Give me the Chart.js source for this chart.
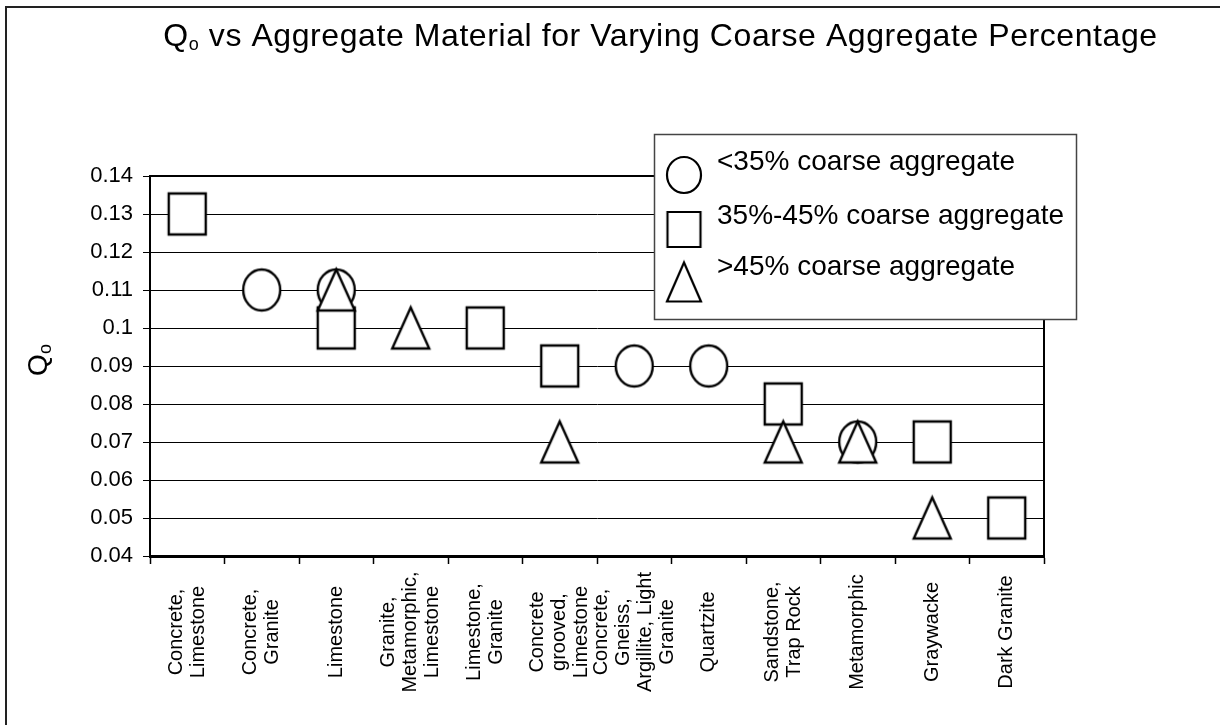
<!DOCTYPE html>
<html>
<head>
<meta charset="utf-8">
<title>Qo vs Aggregate Material</title>
<script src="https://cdn.jsdelivr.net/npm/chart.js@4.4.1/dist/chart.umd.min.js"></script>
<style>
  html, body { margin: 0; padding: 0; background: #fff; }
  #wrap { width: 1220px; height: 725px; }
</style>
</head>
<body>
<div id="wrap"><canvas id="chart" width="1220" height="725"></canvas></div>
<script>
// ---- data ----
const categories = [
    ['Concrete,', 'Limestone'],
    ['Concrete,', 'Granite'],
    ['Limestone'],
    ['Granite,', 'Metamorphic,', 'Limestone'],
    ['Limestone,', 'Granite'],
    ['Concrete', 'grooved,', 'Limestone'],
    ['Concrete,', 'Gneiss,', 'Argillite, Light', 'Granite'],
    ['Quartzite'],
    ['Sandstone,', 'Trap Rock'],
    ['Metamorphic'],
    ['Graywacke'],
    ['Dark Granite']
];
const seriesNames = ['<35% coarse aggregate', '35%-45% coarse aggregate', '>45% coarse aggregate'];
const lowCoarse  = [null, 0.11, 0.11, null, null, null, 0.09, 0.09, null, 0.07, null, null];
const midCoarse  = [0.13, null, 0.10, null, 0.10, 0.09, null, null, 0.08, null, 0.07, 0.05];
const highCoarse = [null, null, 0.11, 0.10, null, 0.07, null, null, 0.07, 0.07, 0.05, null];
const yMin = 0.04;
const yMax = 0.14;
const yStep = 0.01;

const FONT = "'Liberation Sans', Arial, Helvetica, sans-serif";

// hollow marker drawn once, used as pointStyle image
function makeMarker(shape, w, h, lw) {
    const pad = 4;
    const c = document.createElement('canvas');
    c.width = w + pad * 2;
    c.height = h + pad * 2;
    const g = c.getContext('2d');
    g.translate(pad, pad);
    g.lineWidth = lw;
    g.lineJoin = 'miter';
    g.strokeStyle = '#000';
    g.fillStyle = '#fff';
    g.beginPath();
    if (shape === 'circle') {
        g.ellipse(w / 2, h / 2, w / 2, h / 2, 0, 0, Math.PI * 2);
    } else if (shape === 'square') {
        g.rect(0, 0, w, h);
    } else {
        g.moveTo(w / 2, 0);
        g.lineTo(w, h);
        g.lineTo(0, h);
        g.closePath();
    }
    g.fill();
    g.stroke();
    return c;
}

const markers = {
    circle: makeMarker('circle', 37, 41, 2.4),
    square: makeMarker('square', 37, 41, 2.4),
    triangle: makeMarker('triangle', 37, 41, 2.4)
};
const legendMarkers = [
    makeMarker('circle', 34, 36, 2.2),
    makeMarker('square', 33, 35, 2.2),
    makeMarker('triangle', 34, 39, 2.2)
];

// draws text pieces in a row (used for the subscript o)
function drawRun(ctx, parts, x, y, spacing) {
    let cx = x;
    parts.forEach(p => {
        ctx.font = `${p.size}px ${FONT}`;
        if ('letterSpacing' in ctx) ctx.letterSpacing = (spacing || 0) + 'px';
        ctx.fillText(p.text, cx, y + (p.dy || 0));
        cx += ctx.measureText(p.text).width;
    });
    if ('letterSpacing' in ctx) ctx.letterSpacing = '0px';
    return cx - x;
}

function runWidth(ctx, parts, spacing) {
    let w = 0;
    parts.forEach(p => {
        ctx.font = `${p.size}px ${FONT}`;
        if ('letterSpacing' in ctx) ctx.letterSpacing = (spacing || 0) + 'px';
        w += ctx.measureText(p.text).width;
    });
    if ('letterSpacing' in ctx) ctx.letterSpacing = '0px';
    return w;
}

const decorPlugin = {
    id: 'decor',
    beforeDraw(chart) {
        const ctx = chart.ctx;
        ctx.save();
        ctx.fillStyle = '#fff';
        ctx.fillRect(0, 0, chart.width, chart.height);
        // outer chart frame (only top and left are inside the picture)
        ctx.strokeStyle = '#222';
        ctx.lineWidth = 2;
        ctx.beginPath();
        ctx.moveTo(6, chart.height);
        ctx.lineTo(6, 7);
        ctx.lineTo(chart.width, 7);
        ctx.stroke();
        ctx.restore();
    },
    beforeDatasetsDraw(chart) {
        const { ctx, chartArea: a } = chart;
        ctx.save();
        ctx.strokeStyle = '#000';
        ctx.lineWidth = 2;
        ctx.beginPath();
        ctx.moveTo(a.left, a.top);
        ctx.lineTo(a.right, a.top);
        ctx.lineTo(a.right, a.bottom);
        ctx.stroke();
        ctx.restore();
    },
    afterDraw(chart) {
        const ctx = chart.ctx;
        const xScale = chart.scales.x;
        ctx.save();
        ctx.fillStyle = '#000';
        ctx.textBaseline = 'alphabetic';
        ctx.textAlign = 'left';

        // title
        const titleParts = [
            { text: 'Q', size: 32 },
            { text: 'o', size: 18, dy: 4 },
            { text: ' vs Aggregate Material for Varying Coarse Aggregate Percentage', size: 32 }
        ];
        const nChars = 65;
        const w0 = runWidth(ctx, titleParts, 0);
        const sp = Math.max(0, Math.min(3, (995 - w0) / nChars));
        const tw = runWidth(ctx, titleParts, sp);
        drawRun(ctx, titleParts, 660.5 - tw / 2, 46, sp);

        // y axis title, rotated
        const yParts = [{ text: 'Q', size: 28 }, { text: 'o', size: 18, dy: 4 }];
        const yw = runWidth(ctx, yParts, 0);
        ctx.save();
        ctx.translate(47, 360);
        ctx.rotate(-Math.PI / 2);
        drawRun(ctx, yParts, -yw / 2, 0, 0);
        ctx.restore();

        // category labels, rotated and centred on each category
        ctx.font = `20px ${FONT}`;
        ctx.textAlign = 'center';
        ctx.textBaseline = 'middle';
        categories.forEach((lines, i) => {
            const x = xScale.getPixelForValue(i);
            ctx.save();
            ctx.translate(x, 632);
            ctx.rotate(-Math.PI / 2);
            lines.forEach((line, k) => {
                ctx.fillText(line, 0, (k - (lines.length - 1) / 2) * 22);
            });
            ctx.restore();
        });

        // legend box
        ctx.fillStyle = '#fff';
        ctx.fillRect(654, 134, 423, 186);
        ctx.strokeStyle = '#444';
        ctx.lineWidth = 1.5;
        ctx.strokeRect(654.5, 134.5, 422, 185);
        const rowY = [175, 229.5, 282];
        const textY = [170, 224, 275];
        ctx.fillStyle = '#000';
        ctx.textAlign = 'left';
        ctx.textBaseline = 'alphabetic';
        ctx.font = `28px ${FONT}`;
        seriesNames.forEach((name, i) => {
            const m = legendMarkers[i];
            ctx.drawImage(m, 684 - m.width / 2, rowY[i] - m.height / 2);
            ctx.fillText(name, 717, textY[i]);
        });
        ctx.restore();
    }
};

const ctx = document.getElementById('chart').getContext('2d');
new Chart(ctx, {
    type: 'line',
    data: {
        labels: categories,
        datasets: [
            { label: seriesNames[0], data: lowCoarse, pointStyle: markers.circle, order: 3 },
            { label: seriesNames[1], data: midCoarse, pointStyle: markers.square, order: 2 },
            { label: seriesNames[2], data: highCoarse, pointStyle: markers.triangle, order: 1 }
        ]
    },
    options: {
        responsive: false,
        animation: false,
        events: [],
        showLine: false,
        elements: {
            point: { radius: 20, borderWidth: 0 }
        },
        layout: { padding: { left: 0, top: 176, right: 176, bottom: 0 } },
        plugins: {
            legend: { display: false },
            title: { display: false },
            tooltip: { enabled: false }
        },
        scales: {
            x: {
                type: 'category',
                offset: true,
                grid: {
                    display: true,
                    offset: true,
                    drawOnChartArea: false,
                    drawTicks: true,
                    tickLength: 8,
                    tickColor: '#000',
                    tickWidth: 1.5
                },
                border: { display: true, color: '#000', width: 3 },
                ticks: { display: false },
                afterFit: s => { s.height = 725 - 556; }
            },
            y: {
                min: yMin,
                max: yMax,
                ticks: {
                    stepSize: yStep,
                    color: '#000',
                    padding: 10,
                    font: { family: FONT, size: 22 },
                    callback: v => String(+v.toFixed(2))
                },
                grid: {
                    color: '#000',
                    lineWidth: 1,
                    tickLength: 7,
                    tickColor: '#000'
                },
                border: { display: true, color: '#000', width: 2 },
                afterFit: s => { s.width = 150; }
            }
        }
    },
    plugins: [decorPlugin]
});
</script>
</body>
</html>
